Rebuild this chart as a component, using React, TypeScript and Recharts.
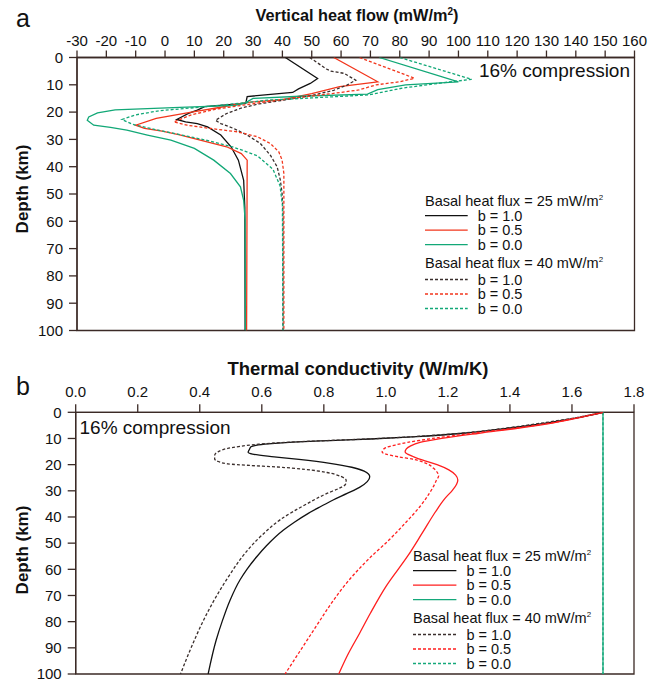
import React from 'react';
import { ScatterChart, Scatter, XAxis, YAxis, ReferenceArea, Legend } from 'recharts';

const FONT = '"Liberation Sans", Arial, Helvetica, sans-serif';
const AXIS_COLOR = '#3b2a26';
const TEXT_COLOR = '#111111';

const BLACK = '#111111';
const BLACK_DASH = '#3a2e2c';
const RED_A = '#f2361c';
const GREEN_A = '#12a877';
const RED_B = '#ff1e1e';
const GREEN_B = '#14a87a';

// tick labels
const heatFlowTicks = [-30, -20, -10, 0, 10, 20, 30, 40, 50, 60, 70, 80, 90, 100, 110, 120, 130, 140, 150, 160];
const conductivityTicks = [0, 0.2, 0.4, 0.6, 0.8, 1.0, 1.2, 1.4, 1.6, 1.8];
const depthTicks = [0, 10, 20, 30, 40, 50, 60, 70, 80, 90, 100];
const bLabels = ['b = 1.0', 'b = 0.5', 'b = 0.0'];
const basalFluxes = [25, 40];

// Panel a: vertical heat flow, [depth km, heat flow mW/m2]
const heatFlow25b10 = [[0, 41], [7.7, 52], [9.5, 49.5], [11.5, 45.5], [12.8, 43.5], [14.3, 28], [16.8, 27.5], [18, 13.5], [19.3, 11], [20.5, 8], [22.7, 4], [23.6, 7], [24.2, 11], [25.4, 14.5], [28.4, 19], [32.7, 22.5], [37.6, 25], [45, 26.8], [55, 27.2], [100, 27.3]];
const heatFlow25b05 = [[0, 57.5], [8.9, 72.5], [10.7, 59.5], [13.2, 50], [15.4, 40], [16.5, 27.5], [18.5, 17.5], [20, 9], [22.3, -3], [24.8, -10], [26, -7], [27, -1], [28.3, 5], [30.3, 12], [32.7, 21], [35.2, 26], [37.6, 28], [100, 27.8]];
const heatFlow25b00 = [[0, 73], [8.9, 100], [10, 82], [11.8, 72.5], [13.4, 69], [14.2, 46], [15, 30], [16.5, 27.5], [17.5, 24], [18.3, 5], [19.2, -17], [20.3, -23], [21.8, -26], [23, -26.5], [24.8, -24.3], [25.6, -18.6], [26.6, -13], [28.4, -6], [30.3, 2], [33.3, 10], [37.6, 16.6], [42.5, 22.3], [47.4, 25.7], [52.3, 26.8], [59.6, 27.3], [100, 27.4]];
const heatFlow40b10 = [[0, 49.3], [4.2, 55], [5, 56.5], [5.8, 61], [8.3, 65], [10.1, 62], [12, 57.5], [13.8, 50.5], [15.6, 40.5], [17, 32], [18.5, 26], [20.5, 21], [23, 17.2], [24.2, 19], [26, 23.4], [28.4, 28], [31.5, 32.5], [35.8, 35.9], [40, 38.2], [44.9, 39.3], [49.8, 39.9], [57, 40.2], [100, 40.2]];
const heatFlow40b05 = [[0, 66.3], [7.6, 85], [8.9, 80], [10, 72], [11.9, 66], [13.2, 57], [14.6, 46], [16, 36], [17.3, 27.5], [19, 17], [21, 9], [23.6, 3], [24.8, 7.5], [26, 15.5], [27.2, 24.5], [29, 31.4], [31.5, 35.9], [34.6, 38.8], [37.6, 39.9], [42.5, 40.5], [100, 40.5]];
const heatFlow40b00 = [[0, 80], [8, 104.5], [9.2, 95], [11.2, 81], [13.7, 69.5], [14.8, 50], [15.6, 35], [16.5, 28], [18, 14], [19.5, -2], [21, -10], [22.7, -14.7], [24.5, -11], [26, -5], [28, 4], [30.3, 14], [32.7, 23], [36, 31.5], [41, 36.8], [47, 39.2], [54, 40], [100, 40.2]];

// Panel b: thermal conductivity, [depth km, W/m/K]
const cond25b10 = [[0, 1.7], [2, 1.62], [4, 1.52], [6, 1.4], [8, 1.25], [9.3, 1.1], [10.2, 0.95], [10.8, 0.82], [11.4, 0.7], [12.2, 0.61], [13.2, 0.565], [14.2, 0.56], [15.3, 0.556], [16, 0.57], [17, 0.64], [18, 0.72], [19.5, 0.82], [21, 0.89], [22.5, 0.93], [24.6, 0.948], [26.5, 0.94], [28.7, 0.915], [31, 0.875], [33.5, 0.83], [36, 0.79], [38.6, 0.75], [42, 0.705], [45, 0.67], [51, 0.615], [55, 0.585], [60, 0.552], [64, 0.53], [72, 0.497], [80, 0.472], [87, 0.453], [100, 0.427]];
const cond25b05 = [[0, 1.7], [2, 1.625], [4, 1.54], [6, 1.43], [8, 1.3], [10, 1.18], [11.5, 1.11], [12.8, 1.08], [14, 1.066], [15.2, 1.062], [16, 1.07], [17, 1.09], [18.2, 1.117], [20, 1.165], [22, 1.203], [24, 1.225], [25.9, 1.232], [27.5, 1.228], [29.7, 1.215], [33, 1.19], [38, 1.16], [46.2, 1.117], [55, 1.07], [66.6, 1.0], [76.8, 0.95], [84.5, 0.915], [92, 0.88], [100, 0.848]];
const cond25b00 = [[0, 1.7], [100, 1.7]];
const cond40b10 = [[0, 1.7], [2, 1.615], [4, 1.51], [6, 1.39], [8, 1.24], [9.3, 1.09], [10.2, 0.94], [10.8, 0.81], [11.4, 0.69], [12.2, 0.59], [13, 0.53], [13.8, 0.49], [15, 0.46], [16.5, 0.448], [17.8, 0.448], [18.8, 0.46], [19.7, 0.49], [20.3, 0.56], [20.9, 0.65], [21.8, 0.74], [23, 0.81], [24.5, 0.855], [26, 0.872], [27.5, 0.87], [29, 0.85], [31, 0.81], [35, 0.745], [41, 0.66], [47, 0.6], [54, 0.545], [62, 0.497], [70, 0.455], [80, 0.41], [90, 0.372], [100, 0.338]];
const cond40b05 = [[0, 1.7], [2, 1.62], [4, 1.535], [6, 1.42], [8, 1.28], [10, 1.15], [11.5, 1.07], [12.5, 1.03], [13.5, 1.0], [14.5, 0.99], [15.2, 0.988], [16, 1.0], [17, 1.04], [18, 1.09], [19.5, 1.13], [21.4, 1.154], [23, 1.166], [24.3, 1.17], [26, 1.163], [28, 1.155], [31, 1.14], [36, 1.11], [42, 1.065], [48.8, 1.01], [56, 0.945], [65, 0.875], [72, 0.83], [80, 0.785], [90, 0.73], [100, 0.675]];
const cond40b00 = [[0, 1.7], [100, 1.7]];

const toPoints = (pairs: number[][]) => pairs.map(([d, v]) => ({ d, v }));

const DASH = '3 2';

const seriesA = [
  { name: '25 b=1.0', data: heatFlow25b10, color: BLACK, dash: undefined },
  { name: '25 b=0.5', data: heatFlow25b05, color: RED_A, dash: undefined },
  { name: '25 b=0.0', data: heatFlow25b00, color: GREEN_A, dash: undefined },
  { name: '40 b=1.0', data: heatFlow40b10, color: BLACK_DASH, dash: DASH },
  { name: '40 b=0.5', data: heatFlow40b05, color: RED_A, dash: DASH },
  { name: '40 b=0.0', data: heatFlow40b00, color: GREEN_A, dash: DASH },
];

const seriesB = [
  { name: '40 b=0.0', data: cond40b00, color: GREEN_B, dash: DASH },
  { name: '25 b=0.0', data: cond25b00, color: GREEN_B, dash: undefined },
  { name: '25 b=1.0', data: cond25b10, color: BLACK, dash: undefined },
  { name: '25 b=0.5', data: cond25b05, color: RED_B, dash: undefined },
  { name: '40 b=1.0', data: cond40b10, color: BLACK_DASH, dash: DASH },
  { name: '40 b=0.5', data: cond40b05, color: RED_B, dash: DASH },
];

const NoShape = () => <g />;

const HEADER_OFFSETS = [0, 62];
const ROW_OFFSETS = [[14.7, 29.2, 43.6], [78.5, 93, 107.5]];

function LegendBox({ colors, textX }: { colors: string[][]; textX: number }) {
  const y0 = 12;
  return (
    <svg width={230} height={130} style={{ display: 'block', overflow: 'visible' }}>
      {basalFluxes.map((f, gi) => (
        <g key={f}>
          <text x={0} y={y0 + HEADER_OFFSETS[gi] + 5.2} fontSize={14.5} fontFamily={FONT} fill={TEXT_COLOR}>
            {`Basal heat flux = ${f} mW/m`}
            <tspan dy={-6} fontSize={8}>2</tspan>
          </text>
          {bLabels.map((lab, i) => {
            const y = y0 + ROW_OFFSETS[gi][i];
            return (
              <g key={lab}>
                <line x1={0} x2={textX - 10} y1={y} y2={y} stroke={colors[gi][i]} strokeWidth={1.3}
                  strokeDasharray={gi === 1 ? DASH : undefined} />
                <text x={textX} y={y + 5.2} fontSize={14.5} fontFamily={FONT} fill={TEXT_COLOR}>{lab}</text>
              </g>
            );
          })}
        </g>
      ))}
    </svg>
  );
}

const axisLineStyle = { stroke: AXIS_COLOR, strokeWidth: 1.3 };
const tickStyle = { fill: TEXT_COLOR, fontSize: 15, fontFamily: FONT };

export default function App() {
  return (
    <div style={{ position: 'absolute', left: 0, top: 0, width: 658, height: 680, background: '#fff' }}>
      <div style={{ position: 'absolute', left: 0, top: 0 }}>
        <ScatterChart width={658} height={340} margin={{ top: 0, right: 23.5, bottom: 9.5, left: 0 }}>
          <XAxis type="number" dataKey="v" orientation="top" domain={[-30, 160]} ticks={heatFlowTicks}
            interval={0} height={57.5} tickSize={7} tickMargin={5} allowDataOverflow
            axisLine={axisLineStyle} tickLine={axisLineStyle} tick={tickStyle} />
          <YAxis type="number" dataKey="d" domain={[0, 100]} reversed ticks={depthTicks} interval={0}
            width={77} tickSize={8} tickMargin={6} allowDataOverflow
            axisLine={axisLineStyle} tickLine={axisLineStyle} tick={tickStyle} />
          <ReferenceArea x1={-30} x2={160} y1={0} y2={100} fill="none" stroke={AXIS_COLOR} strokeWidth={1.3} ifOverflow="visible" />
          {seriesA.map((s) => (
            <Scatter key={s.name} name={s.name} data={toPoints(s.data)} fill={s.color}
              line={{ stroke: s.color, strokeWidth: 1.3, strokeDasharray: s.dash }}
              lineType="joint" lineJointType="linear" shape={NoShape} isAnimationActive={false} />
          ))}
          <Legend layout="horizontal" align="center" verticalAlign="middle"
            wrapperStyle={{ left: 425, top: 188.7, width: 230, height: 130 }}
            content={() => <LegendBox textX={52.7} colors={[[BLACK, RED_A, GREEN_A], [BLACK_DASH, RED_A, GREEN_A]]} />} />
        </ScatterChart>
      </div>
      <div style={{ position: 'absolute', left: 0, top: 340 }}>
        <ScatterChart width={658} height={340} margin={{ top: 0, right: 24, bottom: 6, left: 0 }}>
          <XAxis type="number" dataKey="v" orientation="top" domain={[0, 1.8]} ticks={conductivityTicks}
            interval={0} height={72.3} tickSize={8} tickMargin={7} allowDataOverflow
            tickFormatter={(v: number) => v.toFixed(1)}
            axisLine={axisLineStyle} tickLine={axisLineStyle} tick={tickStyle} />
          <YAxis type="number" dataKey="d" domain={[0, 100]} reversed ticks={depthTicks} interval={0}
            width={75.7} tickSize={8} tickMargin={6} allowDataOverflow
            axisLine={axisLineStyle} tickLine={axisLineStyle} tick={tickStyle} />
          <ReferenceArea x1={0} x2={1.8} y1={0} y2={100} fill="none" stroke={AXIS_COLOR} strokeWidth={1.3} ifOverflow="visible" />
          {seriesB.map((s) => (
            <Scatter key={s.name} name={s.name} data={toPoints(s.data)} fill={s.color}
              line={{ stroke: s.color, strokeWidth: 1.3, strokeDasharray: s.dash }}
              lineType="joint" lineJointType="monotoneY" shape={NoShape} isAnimationActive={false} />
          ))}
          <Legend layout="horizontal" align="center" verticalAlign="middle"
            wrapperStyle={{ left: 413.3, top: 203.7, width: 230, height: 130 }}
            content={() => <LegendBox textX={53.4} colors={[[BLACK, RED_B, GREEN_B], [BLACK_DASH, RED_B, GREEN_B]]} />} />
        </ScatterChart>
      </div>
      <svg width={658} height={680} style={{ position: 'absolute', left: 0, top: 0, pointerEvents: 'none' }}>
        <text x={16} y={27} fontSize={25} fontFamily={FONT} fill={TEXT_COLOR}>a</text>
        <text x={16} y={395} fontSize={25} fontFamily={FONT} fill={TEXT_COLOR}>b</text>
        <text x={357} y={21} fontSize={16.3} fontWeight="bold" fontFamily={FONT} fill={TEXT_COLOR} textAnchor="middle">
          Vertical heat flow (mW/m<tspan dy={-6} fontSize={10}>2</tspan><tspan dy={6}>)</tspan>
        </text>
        <text x={358} y={374.5} fontSize={18.5} fontWeight="bold" fontFamily={FONT} fill={TEXT_COLOR} textAnchor="middle">
          Thermal conductivity (W/m/K)
        </text>
        <text x={630} y={77} fontSize={19} fontFamily={FONT} fill={TEXT_COLOR} textAnchor="end">16% compression</text>
        <text x={79.5} y={433.5} fontSize={19} fontFamily={FONT} fill={TEXT_COLOR}>16% compression</text>
        <text transform="translate(28,189) rotate(-90)" fontSize={17} fontWeight="bold" fontFamily={FONT} fill={TEXT_COLOR} textAnchor="middle">Depth (km)</text>
        <text transform="translate(28,550) rotate(-90)" fontSize={17} fontWeight="bold" fontFamily={FONT} fill={TEXT_COLOR} textAnchor="middle">Depth (km)</text>
      </svg>
    </div>
  );
}
